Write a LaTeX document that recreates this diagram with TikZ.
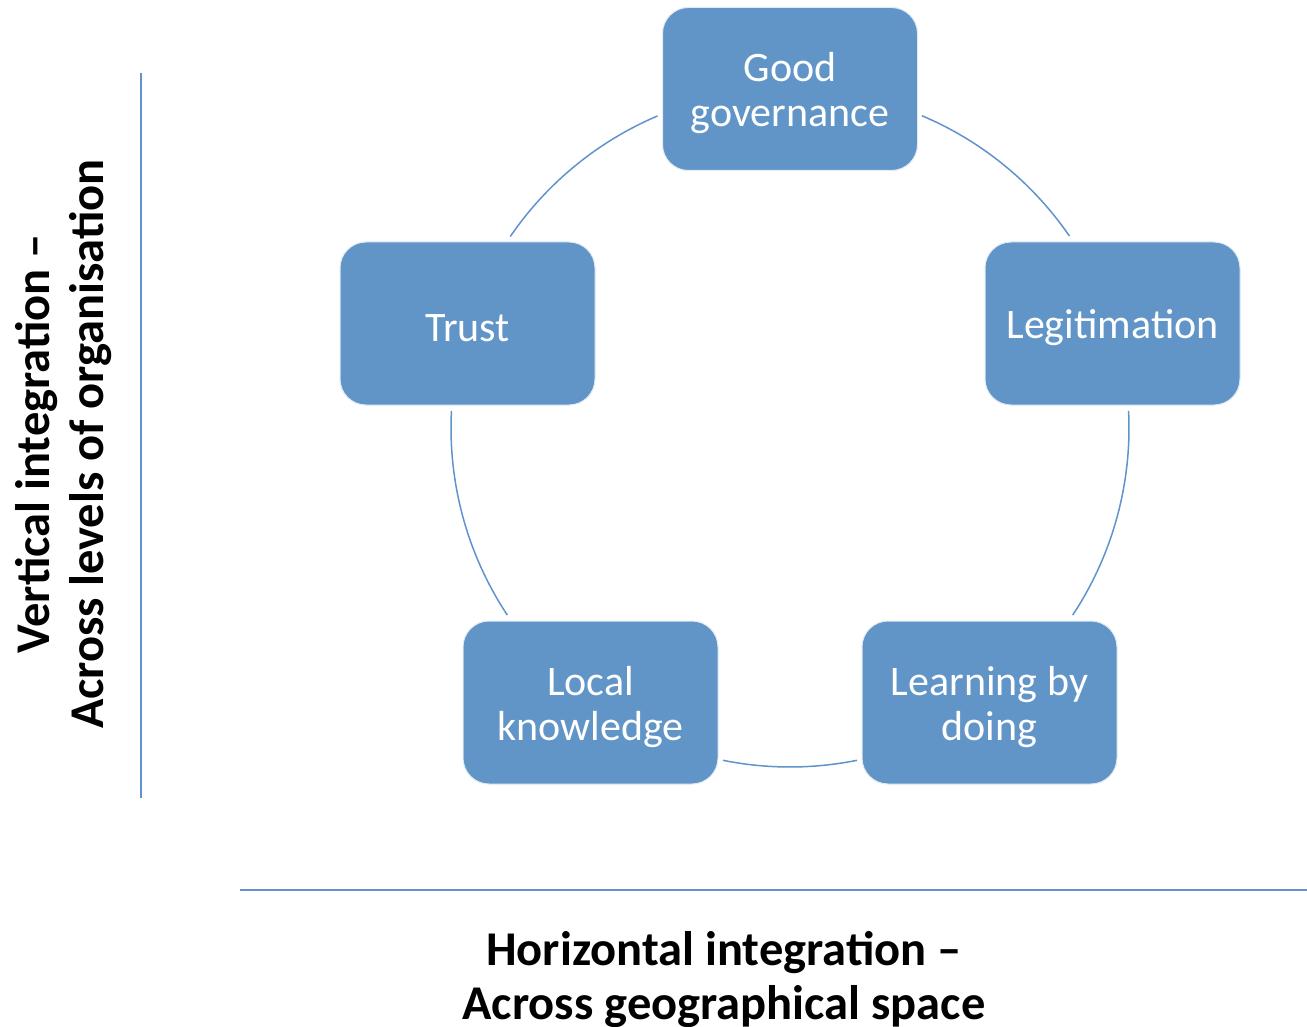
\documentclass[tikz,border=0pt]{standalone}
\usepackage{fontspec}
\setmainfont{Carlito}
\definecolor{boxblue}{RGB}{97,149,200}
\definecolor{lineblue}{RGB}{96,146,204}
\begin{document}
\begin{tikzpicture}[x=1pt,y=-1pt,
  stage/.style={rectangle, rounded corners=26pt, fill=boxblue, draw=white!80!boxblue, line width=1pt,
    minimum width=255pt, minimum height=163pt, inner sep=0pt},
  stagetext/.style={text=white, align=center, font=\fontsize{42}{45}\selectfont, inner sep=0pt, yshift=-4.5pt},
  link/.style={draw=lineblue, line width=1.5pt},
  axisline/.style={draw=lineblue, line width=2pt},
  axislabel/.style={font=\fontsize{48.5}{54}\selectfont\bfseries, align=center, text=black, inner sep=0pt}]
\useasboundingbox (0,0) rectangle (1307,1027);

\coordinate (c) at (790,428);

\node[stage, label={[stagetext]center:{Good\\governance}}] (gg) at (790,89) {};
\node[stage, label={[stagetext]center:{Trust}}] (trust) at (467.5,323.5) {};
\node[stage, label={[stagetext]center:{Legitimation}}] (legit) at (1112.5,323.5) {};
\node[stage, label={[stagetext]center:{Local\\knowledge}}] (local) at (590.5,702.5) {};
\node[stage, label={[stagetext]center:{Learning by\\doing}}] (lbd) at (989.5,702.5) {};

% arcs of the cycle (centre c, radius 339)
\draw[link] ([shift={(-67.1:339)}]c) arc[start angle=-67.1, end angle=-34.5, radius=339];
\draw[link] ([shift={(-2.9:339)}]c) arc[start angle=-2.9, end angle=33.5, radius=339];
\draw[link] ([shift={(78.6:339)}]c) arc[start angle=78.6, end angle=101.4, radius=339];
\draw[link] ([shift={(146.5:339)}]c) arc[start angle=146.5, end angle=182.9, radius=339];
\draw[link] ([shift={(214.4:339)}]c) arc[start angle=214.4, end angle=247, radius=339];

% axes
\coordinate (vtop) at (141,73);
\coordinate (vbot) at (141,798);
\draw[axisline] (vtop) -- (vbot);
\coordinate (hleft) at (240,890);
\coordinate (hright) at (1307,890);
\draw[axisline] (hleft) -- (hright);

\node[axislabel, rotate=90] (vlabel) at (64,444) {Vertical integration –\\Across levels of organisation};
\node[axislabel, anchor=base] (hlabel) at (724,1019) {Horizontal integration –\\Across geographical space};
\end{tikzpicture}
\end{document}
